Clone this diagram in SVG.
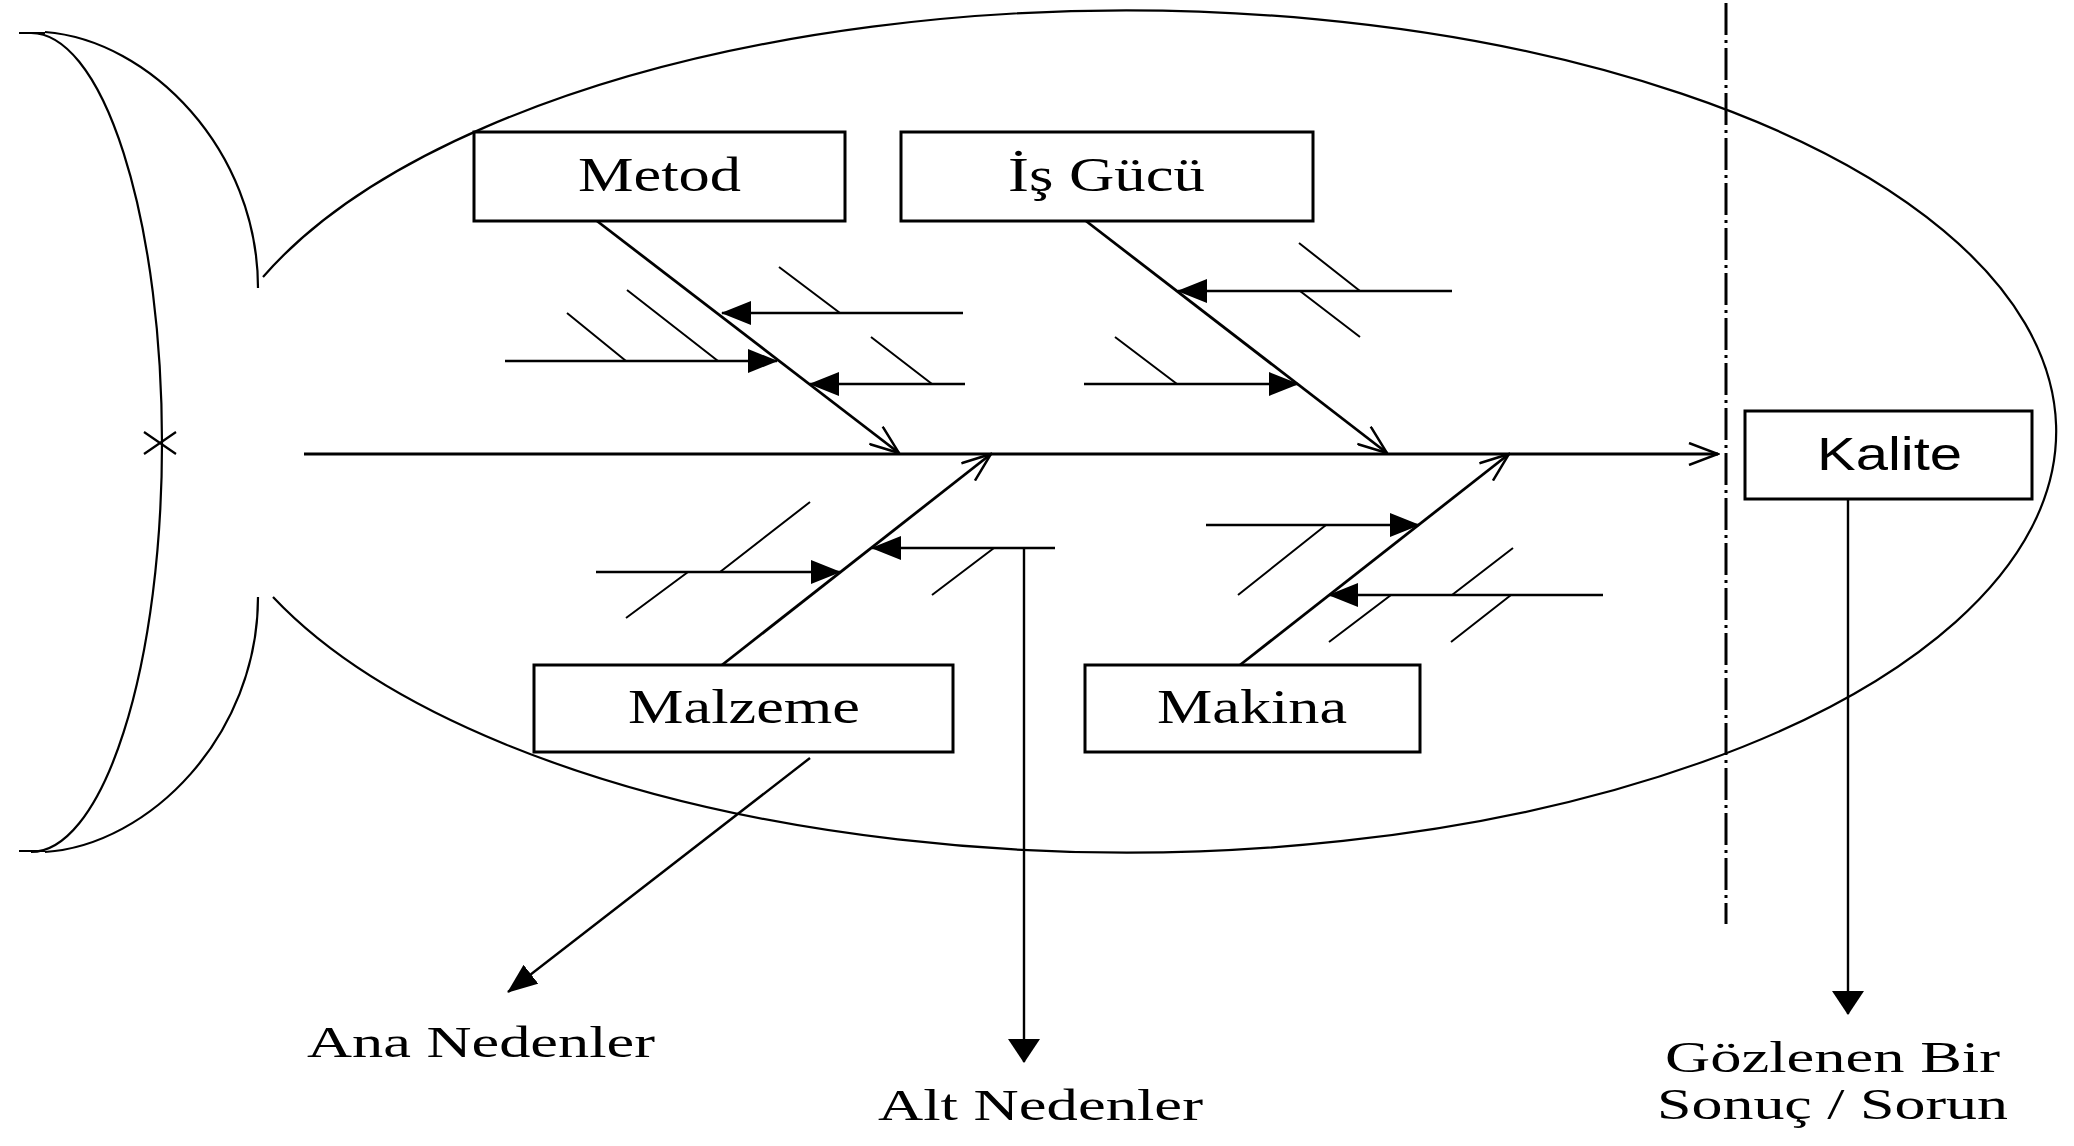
<svg xmlns="http://www.w3.org/2000/svg" width="2074" height="1146" viewBox="0 0 2074 1146">
<defs>
<style>
.body{fill:none;stroke:#000;stroke-width:2.2}
.box{fill:#fff;stroke:#000;stroke-width:3}
.bone{fill:none;stroke:#000;stroke-width:2.8}
.sub{fill:none;stroke:#000;stroke-width:2.4}
.slash{fill:none;stroke:#000;stroke-width:2}
.dash{fill:none;stroke:#000;stroke-width:3;stroke-dasharray:32 5 3 5}
.serif{font-family:"Liberation Serif","Times New Roman",serif;fill:#000}
.sans{font-family:"Liberation Sans",Arial,sans-serif;fill:#000}
</style>
<marker id="open" markerUnits="userSpaceOnUse" viewBox="0 0 32 24" markerWidth="32" markerHeight="24" refX="30" refY="12" orient="auto">
<path d="M1 1 L30 12 L1 23" fill="none" stroke="#000" stroke-width="2.5"/>
</marker>
<marker id="fill" markerUnits="userSpaceOnUse" viewBox="0 0 30 24" markerWidth="30" markerHeight="24" refX="29" refY="12" orient="auto">
<path d="M0 0 L30 12 L0 24 Z" fill="#000"/>
</marker>
<marker id="fillbig" markerUnits="userSpaceOnUse" viewBox="0 0 24 32" markerWidth="24" markerHeight="32" refX="23" refY="16" orient="auto">
<path d="M0 0 L24 16 L0 32 Z" fill="#000"/>
</marker>
</defs>
<rect width="2074" height="1146" fill="#fff"/>

<g id="fish-outline">
<path class="body" d="M263 277 A929 421 0 1 1 273 597"/>
<path class="body" d="M19 33 H45 M31 33 A131 410 0 0 1 162 443 A131 409 0 0 1 31 852 M19 851 H45"/>
<path class="body" d="M45 32 C150 40 258 150 258 288"/>
<path class="body" d="M258 597 C258 735 150 845 45 852"/>
<path class="body" d="M144 432 L176 454 M144 454 L176 432"/>
<path class="dash" d="M1726 3 V924"/>
</g>

<g id="connectors">
<path class="bone" d="M304 454 H1718" marker-end="url(#open)"/>
<path class="bone" d="M597 221 L899 453" marker-end="url(#open)"/>
<path class="bone" d="M1086 221 L1387 453" marker-end="url(#open)"/>
<path class="bone" d="M722 665 L991 454" marker-end="url(#open)"/>
<path class="bone" d="M1240 665 L1509 454" marker-end="url(#open)"/>

<path class="sub" d="M963 313 H722" marker-end="url(#fill)"/>
<path class="sub" d="M505 361 H777" marker-end="url(#fill)"/>
<path class="sub" d="M965 384 H810" marker-end="url(#fill)"/>
<path class="slash" d="M779 267 L840 313 M567 313 L626 361 M627 290 L718 361 M871 337 L932 384"/>

<path class="sub" d="M1452 291 H1178" marker-end="url(#fill)"/>
<path class="sub" d="M1084 384 H1298" marker-end="url(#fill)"/>
<path class="slash" d="M1299 243 L1360 291 M1300 291 L1360 337 M1115 337 L1177 384"/>

<path class="sub" d="M596 572 H840" marker-end="url(#fill)"/>
<path class="sub" d="M1055 548 H872" marker-end="url(#fill)"/>
<path class="slash" d="M626 618 L688 572 M720 572 L810 502 M932 595 L994 548"/>

<path class="sub" d="M1206 525 H1419" marker-end="url(#fill)"/>
<path class="sub" d="M1603 595 H1329" marker-end="url(#fill)"/>
<path class="slash" d="M1238 595 L1326 525 M1329 642 L1391 595 M1452 595 L1513 548 M1451 642 L1511 595"/>

<path class="sub" d="M810 758 L508 992" marker-end="url(#fill)"/>
<path class="sub" d="M1024 548 V1062" marker-end="url(#fillbig)"/>
<path class="sub" d="M1848 499 V1014" marker-end="url(#fillbig)"/>
</g>

<g id="metod">
<rect class="box" x="474" y="132" width="371" height="89"/>
<text class="serif" x="578" y="191" font-size="48" textLength="163" lengthAdjust="spacingAndGlyphs">Metod</text>
</g>
<g id="is-gucu">
<rect class="box" x="901" y="132" width="412" height="89"/>
<text class="serif" x="1008" y="191" font-size="48" textLength="197" lengthAdjust="spacingAndGlyphs">İş Gücü</text>
</g>
<g id="malzeme">
<rect class="box" x="534" y="665" width="419" height="87"/>
<text class="serif" x="628" y="723" font-size="48" textLength="232" lengthAdjust="spacingAndGlyphs">Malzeme</text>
</g>
<g id="makina">
<rect class="box" x="1085" y="665" width="335" height="87"/>
<text class="serif" x="1157" y="723" font-size="48" textLength="190" lengthAdjust="spacingAndGlyphs">Makina</text>
</g>
<g id="kalite">
<rect class="box" x="1745" y="411" width="287" height="88"/>
<text class="sans" x="1817" y="470" font-size="47" textLength="145" lengthAdjust="spacingAndGlyphs">Kalite</text>
</g>

<g id="labels">
<text class="serif" x="307" y="1057" font-size="45" textLength="348" lengthAdjust="spacingAndGlyphs">Ana Nedenler</text>
<text class="serif" x="878" y="1120" font-size="45" textLength="325" lengthAdjust="spacingAndGlyphs">Alt Nedenler</text>
<text class="serif" x="1665" y="1072" font-size="45" textLength="335" lengthAdjust="spacingAndGlyphs">Gözlenen Bir</text>
<text class="serif" x="1657" y="1119" font-size="45" textLength="351" lengthAdjust="spacingAndGlyphs">Sonuç / Sorun</text>
</g>
</svg>
